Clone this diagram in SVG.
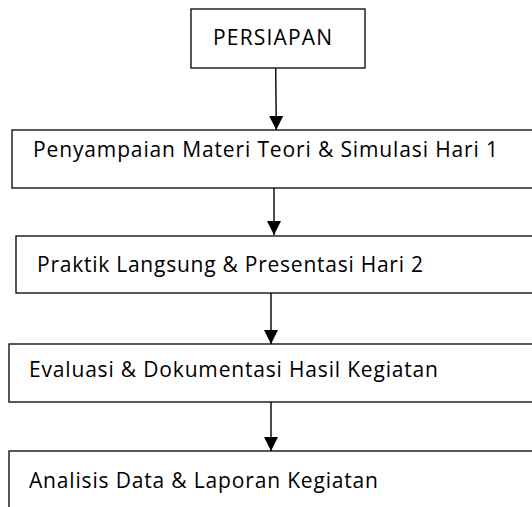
<svg xmlns="http://www.w3.org/2000/svg" width="532" height="507" viewBox="0 0 532 507">
<style>
.box{fill:#fff;stroke:#000;stroke-width:1.3}
.lbl{font-family:"Open Sans","Liberation Sans",sans-serif;font-size:21px;fill:#000}
.con{stroke:#000;stroke-width:1.4;fill:none}
</style>
<defs>
<marker id="ah" markerUnits="userSpaceOnUse" markerWidth="14" markerHeight="14" refX="14" refY="7" orient="auto">
<path d="M0,0 L14,7 L0,14 z" fill="#000"/>
</marker>
</defs>
<rect width="532" height="507" fill="#fff"/>
<g id="connectors">
<line class="con" x1="275.7" y1="68" x2="276.3" y2="130" marker-end="url(#ah)"/>
<line class="con" x1="274" y1="188" x2="274" y2="235" marker-end="url(#ah)"/>
<line class="con" x1="271" y1="293" x2="271" y2="344" marker-end="url(#ah)"/>
<line class="con" x1="271" y1="402" x2="271" y2="451" marker-end="url(#ah)"/>
</g>
<g id="n1">
<rect class="box" x="191" y="9" width="174" height="59"/>
<text class="lbl" x="213" y="45" textLength="119">PERSIAPAN</text>
</g>
<g id="n2">
<rect class="box" x="12" y="130" width="540" height="58"/>
<text class="lbl" x="33" y="157" textLength="465">Penyampaian Materi Teori &amp; Simulasi Hari 1</text>
</g>
<g id="n3">
<rect class="box" x="16" y="236" width="540" height="57"/>
<text class="lbl" x="37" y="272" textLength="386">Praktik Langsung &amp; Presentasi Hari 2</text>
</g>
<g id="n4">
<rect class="box" x="9" y="344" width="540" height="58"/>
<text class="lbl" x="29" y="377" textLength="409">Evaluasi &amp; Dokumentasi Hasil Kegiatan</text>
</g>
<g id="n5">
<rect class="box" x="9" y="451" width="540" height="80"/>
<text class="lbl" x="29" y="488" textLength="349">Analisis Data &amp; Laporan Kegiatan</text>
</g>
</svg>
